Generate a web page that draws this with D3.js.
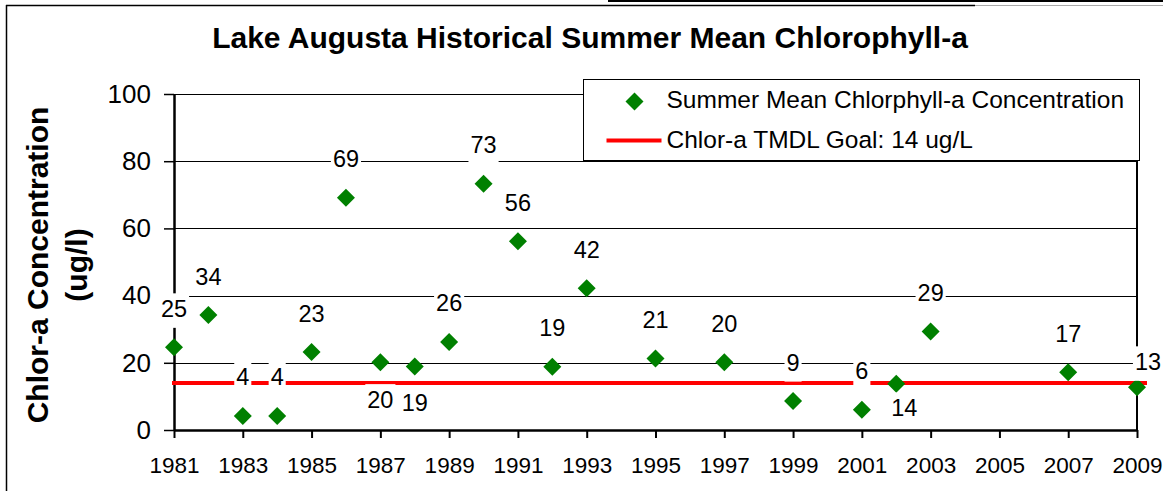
<!DOCTYPE html>
<html lang="en">
<head>
    <meta charset="UTF-8">
    <title>Lake Augusta chlorophyll-a</title>
    <script src="https://d3js.org/d3.v7.min.js"></script>
    <style>
        body { margin: 0; background: #fff; }
        text { font-family: "Liberation Sans", Arial, sans-serif; fill: #000; }
    </style>
</head>
<body>
    <svg width="1163" height="491"></svg>
    <script>
        // data
        const years = [1981, 1982, 1983, 1984, 1985, 1986, 1987, 1988, 1989, 1990, 1991,
                       1992, 1993, 1995, 1997, 1999, 2001, 2002, 2003, 2007, 2009];
        const chlorA = [24.6, 34.2, 4.2, 4.2, 23.2, 69.1, 20.2, 18.9, 26.2, 73.3, 56.2,
                        18.8, 42.2, 21.3, 20.2, 8.6, 6.0, 13.8, 29.3, 17.2, 12.7];
        const goal = 14;
        const xTicks = d3.range(1981, 2010, 2);
        const yTicks = [0, 20, 40, 60, 80, 100];
        const title = 'Lake Augusta Historical Summer Mean Chlorophyll-a';
        const seriesName = 'Summer Mean Chlorphyll-a Concentration';
        const goalName = 'Chlor-a TMDL Goal: 14 ug/L';

        const svg = d3.select('svg');
        const margin = {top: 94, bottom: 61, left: 174, right: 26};
        const width = +svg.attr('width');
        const height = +svg.attr('height');

        const x = d3.scaleLinear().domain([1981, 2009]).range([margin.left, width - margin.right]);
        const y = d3.scaleLinear().domain([0, 100]).range([height - margin.bottom, margin.top]);

        // outer frame (cropped picture border)
        svg.append('line').attr('x1', 6.5).attr('x2', 6.5).attr('y1', 5).attr('y2', height)
            .attr('stroke', '#000').attr('stroke-width', 1.5);
        svg.append('line').attr('x1', 6).attr('x2', 975).attr('y1', 5.5).attr('y2', 5.5)
            .attr('stroke', '#000').attr('stroke-width', 1.5);
        svg.append('line').attr('x1', 975).attr('x2', width).attr('y1', 5.5).attr('y2', 5.5)
            .attr('stroke', '#aaa').attr('stroke-width', 1);
        svg.append('line').attr('x1', 608).attr('x2', width).attr('y1', 1).attr('y2', 1)
            .attr('stroke', '#000').attr('stroke-width', 2);

        // title
        svg.append('text')
            .attr('x', 590).attr('y', 48)
            .attr('text-anchor', 'middle')
            .style('font-size', '30px').style('font-weight', 'bold')
            .text(title);

        // gridlines
        svg.append('g').selectAll('line')
            .data(yTicks.filter(d => d > 0))
            .join('line')
            .attr('x1', x(1981)).attr('x2', x(2009))
            .attr('y1', d => Math.round(y(d)) + 0.5).attr('y2', d => Math.round(y(d)) + 0.5)
            .attr('stroke', '#000').attr('stroke-width', 1);

        // plot area right border
        svg.append('line')
            .attr('x1', x(2009)).attr('x2', x(2009))
            .attr('y1', y(100)).attr('y2', y(0))
            .attr('stroke', '#000').attr('stroke-width', 2);

        // axes
        const yAxis = d3.axisLeft(y).tickValues(yTicks).tickSize(10).tickPadding(13).tickSizeOuter(0);
        const gy = svg.append('g')
            .attr('transform', 'translate(' + [x(1981), 0] + ')')
            .call(yAxis);
        gy.select('.domain').attr('stroke-width', 2.5);
        gy.selectAll('.tick line').attr('stroke-width', 1.5);
        gy.selectAll('text').style('font-size', '26px').attr('font-family', null);

        const xAxis = d3.axisBottom(x).tickValues(xTicks).tickFormat(d3.format('d'))
            .tickSize(8).tickPadding(19).tickSizeOuter(0);
        const gx = svg.append('g')
            .attr('transform', 'translate(' + [0, y(0)] + ')')
            .call(xAxis);
        gx.select('.domain').attr('stroke-width', 2.5);
        gx.selectAll('.tick line').attr('stroke-width', 2);
        gx.selectAll('text').style('font-size', '22.5px').attr('font-family', null);

        // y axis title
        const yTitle = svg.append('text')
            .attr('transform', 'translate(' + [0, 265] + ') rotate(-90)')
            .attr('text-anchor', 'middle')
            .style('font-size', '30px').style('font-weight', 'bold');
        yTitle.append('tspan').attr('x', 0).attr('y', 48).text('Chlor-a Concentration');
        yTitle.append('tspan').attr('x', 0).attr('y', 87).text('(ug/l)');

        // goal line
        svg.append('line')
            .attr('x1', x(1981) - 2).attr('x2', x(2009) + 10)
            .attr('y1', y(goal)).attr('y2', y(goal))
            .attr('stroke', '#ff0000').attr('stroke-width', 4);

        const diamond = 'M0,-9L9,0L0,9L-9,0Z';
        const points = years.map((yr, i) => ({year: yr, value: chlorA[i]}));

        svg.append('g').selectAll('path')
            .data(points)
            .join('path')
            .attr('d', diamond)
            .attr('transform', d => 'translate(' + [x(d.year), y(d.value)] + ')')
            .attr('fill', '#008000');

        // data labels: most sit above the point, a few are moved
        const labelShift = {1987: [0, 37], 1988: [0, 36], 2002: [8, 24], 2009: [11, -26]};
        const labels = svg.append('g').selectAll('g')
            .data(points)
            .join('g')
            .attr('transform', d => {
                const s = labelShift[d.year] || [0, -39];
                return 'translate(' + [x(d.year) + s[0], y(d.value) + s[1]] + ')';
            });
        labels.append('rect')
            .attr('fill', '#fff');
        labels.append('text')
            .attr('text-anchor', 'middle')
            .attr('dy', '0.36em')
            .style('font-size', '23.5px')
            .text(d => Math.round(d.value));
        labels.each(function () {
            const g = d3.select(this);
            const w = g.select('text').node().getComputedTextLength();
            g.select('rect')
                .attr('x', -w / 2 - 2).attr('width', w + 4)
                .attr('y', -15).attr('height', 34.5);
        });

        // legend
        const legend = svg.append('g').attr('transform', 'translate(583.5,79.5)');
        legend.append('rect')
            .attr('width', 556).attr('height', 81)
            .attr('fill', '#fff').attr('stroke', '#000').attr('stroke-width', 1);
        legend.append('path')
            .attr('d', diamond)
            .attr('transform', 'translate(51,22)')
            .attr('fill', '#008000');
        legend.append('text')
            .attr('x', 83).attr('y', 20).attr('dy', '0.36em')
            .style('font-size', '24.5px')
            .text(seriesName);
        legend.append('line')
            .attr('x1', 23).attr('x2', 78).attr('y1', 61).attr('y2', 61)
            .attr('stroke', '#ff0000').attr('stroke-width', 4);
        legend.append('text')
            .attr('x', 83).attr('y', 60).attr('dy', '0.36em')
            .style('font-size', '24.5px')
            .text(goalName);
    </script>
</body>
</html>
